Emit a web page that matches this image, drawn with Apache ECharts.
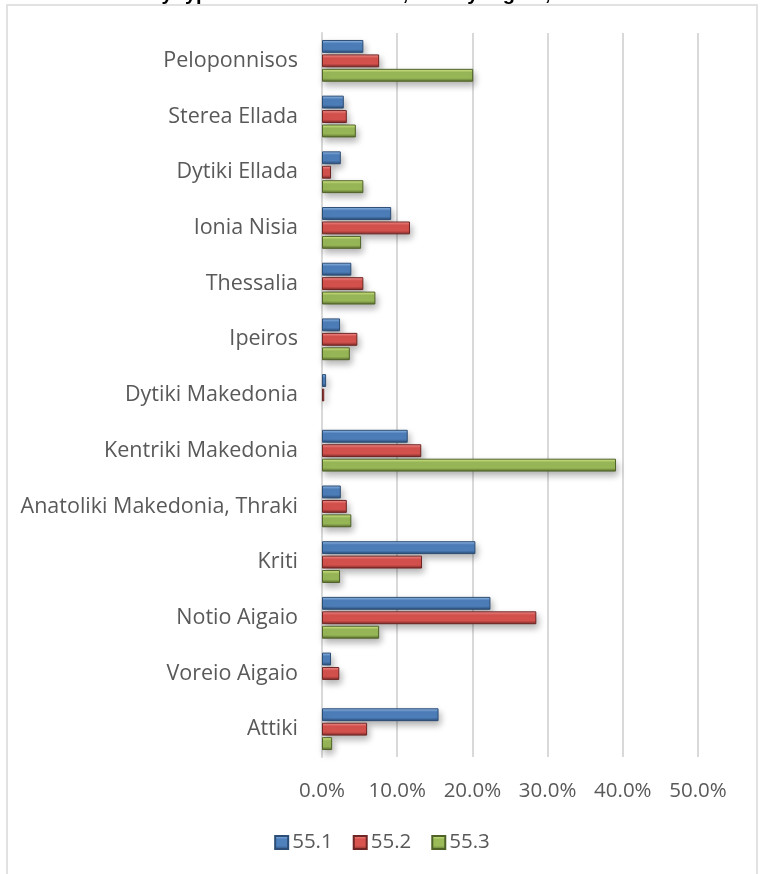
<!DOCTYPE html>
<html>
<head>
<meta charset="utf-8">
<script src="https://cdn.jsdelivr.net/npm/echarts@6/dist/echarts.min.js"></script>
<style>html,body{margin:0;padding:0;background:#fff;}#c{width:764px;height:874px;}</style>
</head>
<body>
<div id="c"></div>
<script>
const regions = ["Peloponnisos","Sterea Ellada","Dytiki Ellada","Ionia Nisia","Thessalia","Ipeiros","Dytiki Makedonia","Kentriki Makedonia","Anatoliki Makedonia, Thraki","Kriti","Notio Aigaio","Voreio Aigaio","Attiki"];
const s551 = [5.5, 2.9, 2.5, 9.2, 3.9, 2.4, 0.55, 11.4, 2.5, 20.4, 22.4, 1.2, 15.5];
const s552 = [7.6, 3.3, 1.2, 11.7, 5.5, 4.7, 0.3, 13.2, 3.3, 13.3, 28.5, 2.3, 6.0];
const s553 = [20.1, 4.5, 5.5, 5.2, 7.1, 3.7, 0.0, 39.1, 3.9, 2.4, 7.6, 0.0, 1.35];
const seriesNames = ["55.1","55.2","55.3"];
const xTicks = [0, 10, 20, 30, 40, 50];

const FONT = "Open Sans";
function grad(light, base, dark) {
  return new echarts.graphic.LinearGradient(0, 0, 0, 1, [
    {offset: 0, color: light},
    {offset: 0.28, color: base},
    {offset: 0.72, color: base},
    {offset: 1, color: dark}
  ]);
}
const styles = [
  {color: grad('#9cc3f0', '#4f81bd', '#284870'), borderColor: '#2c4d75'},
  {color: grad('#fa9a97', '#d9534f', '#772a28'), borderColor: '#6e2523'},
  {color: grad('#e2f590', '#9bbb59', '#56692b'), borderColor: '#4f6228'}
];
const chart = echarts.init(document.getElementById('c'));
const data = [s551, s552, s553];
chart.setOption({
  animation: false,
  grid: {left: 322, right: 66, top: 33, bottom: 117, containLabel: false},
  legend: {
    data: seriesNames, bottom: 16, left: 'center',
    itemWidth: 13, itemHeight: 13, itemGap: 20,
    icon: 'rect',
    textStyle: {fontFamily: FONT, fontSize: 20.5, color: '#595959', padding: [0,0,0,-1]}
  },
  xAxis: {
    type: 'value', min: 0, max: 50, interval: 10,
    axisLine: {show: false}, axisTick: {show: false},
    splitLine: {lineStyle: {color: '#d9d9d9', width: 2}},
    axisLabel: {formatter: v => v.toFixed(1) + '%', fontFamily: FONT, fontSize: 20.5, color: '#595959', margin: 24}
  },
  yAxis: {
    type: 'category', data: regions, inverse: true,
    axisLine: {show: true, lineStyle: {color: '#d9d9d9', width: 2}},
    axisTick: {show: false},
    axisLabel: {fontFamily: FONT, fontSize: 21.5, color: '#595959', margin: 24}
  },
  series: data.map((d, i) => ({
    name: seriesNames[i], type: 'bar', data: d.map(v => v === 0 ? '-' : v),
    barCategoryGap: '25%', barGap: '12%',
    itemStyle: Object.assign({shadowBlur: 7, shadowOffsetY: 4, shadowOffsetX: 2, shadowColor: 'rgba(0,0,0,0.3)', borderWidth: 1}, styles[i])
  })),
  graphic: [
    {type: 'rect', shape: {x: 7, y: 5, width: 750, height: 900}, style: {fill: 'none', stroke: '#d9d9d9', lineWidth: 1.5}, silent: true},
    {type: 'text', x: 375, y: -16, style: {text: 'by type of accommodation, and by region, 2012', fontFamily: "Liberation Sans", fontWeight: 'bold', fontSize: 20, fill: '#000', textAlign: 'center', textVerticalAlign: 'top'}}
  ]
});
</script>
</body>
</html>
